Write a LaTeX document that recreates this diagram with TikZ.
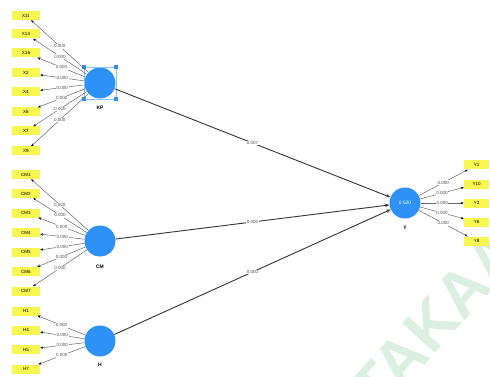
\documentclass[tikz,border=0pt]{standalone}
\usepackage{fontspec}
\setmainfont{Liberation Sans}
\usetikzlibrary{arrows.meta}
\definecolor{lvblue}{RGB}{45,145,245}
\definecolor{indyel}{RGB}{248,246,80}
\definecolor{wmgreen}{RGB}{218,239,224}
\begin{document}
\begin{tikzpicture}[x=1pt,y=-1pt,
 ind/.style={fill=indyel, minimum width=28pt, minimum height=9pt, inner sep=0pt, font=\fontsize{4.5}{5}\selectfont},
 lv/.style={circle, fill=lvblue, minimum size=31pt, inner sep=0pt},
 lvlab/.style={font=\fontsize{5}{6}\selectfont\bfseries},
 ldarrow/.style={draw=black!60, line width=0.5pt, -{Stealth[length=3pt,width=2.4pt,black]}},
 pathar/.style={draw=black!80, line width=0.9pt, -{Stealth[length=4.5pt,width=3.4pt]}},
 wt/.style={font=\fontsize{4.5}{5}\selectfont, text=black!70, fill=white, inner sep=0.6pt},
 handle/.style={rectangle, fill=lvblue, minimum size=3.4pt, inner sep=0pt}]
\useasboundingbox (0,0) rectangle (490,377);
% watermark
\begin{scope}
\clip (0,0) rectangle (490,377);
\node[rotate=48, anchor=west, text=wmgreen, inner sep=0pt, font=\fontsize{64}{64}\selectfont\bfseries] (wm) at (362,402) {TAKAAN};
\end{scope}
% latent variables
\node[lv] (KP) at (100,83) {};
\node[lvlab] (KPl) at (100,108) {KP};
\node[lv] (CM) at (100,241) {};
\node[lvlab] (CMl) at (100,267) {CM};
\node[lv] (H) at (100,341) {};
\node[lvlab] (Hl) at (100,365) {H};
\node[lv, text=white, font=\fontsize{4.8}{5}\selectfont] (Y) at (405,203) {0.520};
\node[lvlab] (Yl) at (405,228) {Y};
% selection of KP
\draw[lvblue!55, line width=0.3pt] (84,67) rectangle (116,99);
\node[handle] (h1) at (84,67) {};
\node[handle] (h2) at (116,67) {};
\node[handle] (h3) at (84,99) {};
\node[handle] (h4) at (116,99) {};
% indicators KP
\foreach \n/\yy in {X11/15.5, X14/34, X16/53, X2/73, X4/92, X6/112, X7/131, X9/151} {
  \node[ind] (\n) at (26,\yy) {\n};
  \draw[ldarrow] (KP) -- node[wt]{0.000} (\n);
}
% indicators CM
\foreach \n/\yy in {CM1/174.5, CM2/193.5, CM3/213, CM4/232.5, CM5/252, CM6/271.5, CM7/291} {
  \node[ind] (\n) at (26,\yy) {\n};
  \draw[ldarrow] (CM) -- node[wt]{0.000} (\n);
}
% indicators H
\foreach \n/\yy in {H1/311, H4/330, H5/349.5, H7/369} {
  \node[ind] (\n) at (26,\yy) {\n};
  \draw[ldarrow] (H) -- node[wt]{0.000} (\n);
}
% indicators Y
\foreach \n/\yy in {Y1/165, Y10/184, Y3/203, Y6/222, Y8/241} {
  \node[ind, minimum width=25pt] (\n) at (476.5,\yy) {\n};
  \draw[ldarrow] (Y) -- node[wt]{0.000} (\n);
}
% structural paths
\draw[pathar] (KP) -- node[wt]{0.007} (Y);
\draw[pathar] (CM) -- node[wt]{0.000} (Y);
\draw[pathar] (H) -- node[wt]{0.000} (Y);
\end{tikzpicture}
\end{document}
